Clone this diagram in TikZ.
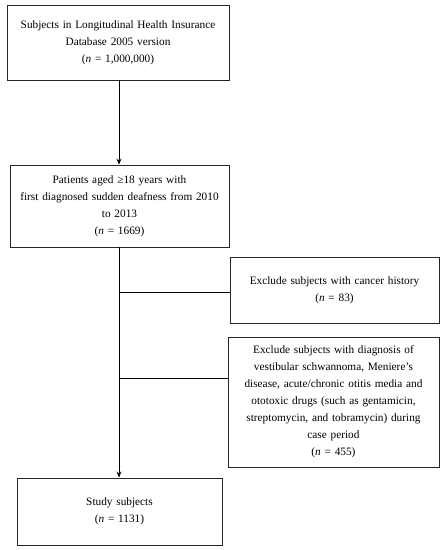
\documentclass[tikz,border=0pt]{standalone}
\usepackage{fontspec}
\setmainfont{Liberation Serif}
\usetikzlibrary{arrows.meta}
\begin{document}
\begin{tikzpicture}[x=1pt,y=-1pt,
  box/.style={draw=black!85,line width=0.9pt,rectangle,inner xsep=0pt,inner ysep=0pt,align=center,
    font=\fontsize{11.3pt}{17pt}\selectfont},
  conn/.style={line width=0.9pt,black},
  arr/.style={conn,-{Stealth[length=6pt,width=5pt]}}]
\useasboundingbox (0,0) rectangle (445,550);
\node[box,text width=222pt,minimum height=75pt] (b1) at (118,42.5)
  {Subjects in Longitudinal Health Insurance\\Database 2005 version\\(\textit{n} = 1,000,000)};
\node[box,text width=219pt,minimum height=82pt] (b2) at (119.5,206)
  {Patients aged ≥18 years with\\first diagnosed sudden deafness from 2010\\to 2013\\(\textit{n} = 1669)};
\node[box,text width=209pt,minimum height=66pt] (b3) at (334.5,290)
  {Exclude subjects with cancer history\\(\textit{n} = 83)};
\node[box,text width=211pt,minimum height=130pt] (b4) at (333.5,402)
  {Exclude subjects with diagnosis of\\vestibular schwannoma, Meniere’s\\disease, acute/chronic otitis media and\\ototoxic drugs (such as gentamicin,\\streptomycin, and tobramycin) during\\case period\\(\textit{n} = 455)};
\node[box,text width=205pt,minimum height=67pt] (b5) at (119.5,511.5)
  {Study subjects\\(\textit{n} = 1131)};
\coordinate (t) at (119,0);
\coordinate (j3) at (0,292);
\coordinate (j4) at (0,378);
\draw[arr] (b1.south -| t) -- (b2.north -| t);
\draw[arr] (b2.south -| t) -- (b5.north -| t);
\draw[conn] (t |- j3) -- (b3.west |- j3);
\draw[conn] (t |- j4) -- (b4.west |- j4);
\end{tikzpicture}
\end{document}
